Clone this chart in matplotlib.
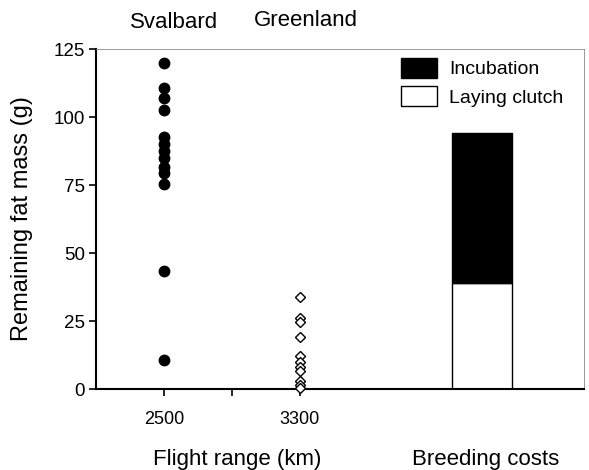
import matplotlib.pyplot as plt
from matplotlib.patches import Patch

plt.rcParams['font.family'] = ['Liberation Sans', 'DejaVu Sans']

# Remaining fat mass (g) after the flight
svalbard = [120, 110.5, 107, 102.5, 92.5, 90, 87.5, 85, 81.5, 79.5, 75.5, 43.5, 10.5]
greenland = [34, 26, 24.5, 19, 12, 10, 8, 6.5, 3, 1.5, 0.3]

# breeding costs (g)
laying_clutch = 39
incubation = 94.3 - 39

x_svalbard = 1
x_greenland = 3
x_bar = 5.68

fig = plt.figure(figsize=(5.89, 4.70), dpi=100)
ax = fig.add_axes([0.163, 0.1723, 0.8285, 0.7234])

ax.plot([x_svalbard] * len(svalbard), svalbard, 'o', color='black', ms=7.5, zorder=3)
ax.plot([x_greenland] * len(greenland), greenland, 'D', mfc='white', mec='black',
        ms=5, mew=1, zorder=3, clip_on=False)

ax.bar(x_bar, laying_clutch, width=0.87, color='white', edgecolor='black', lw=1)
ax.bar(x_bar, incubation, width=0.87, bottom=laying_clutch, color='black',
       edgecolor='black', lw=1)

ax.set_xlim(0, 7.18)
ax.set_ylim(0, 125)
ax.set_yticks([0, 25, 50, 75, 100, 125])
ax.set_xticks([1, 2, 3])
ax.set_xticklabels(['2500', '', '3300'])
ax.tick_params(axis='y', labelsize=13.5, length=5, width=1.2, pad=3)
ax.tick_params(axis='x', labelsize=13, length=5, width=1.2, pad=11)

for s in ['top', 'right']:
    ax.spines[s].set_color('#888888')
    ax.spines[s].set_linewidth(0.6)
for s in ['left', 'bottom']:
    ax.spines[s].set_linewidth(1.5)

ax.set_ylabel('Remaining fat mass (g)', fontsize=17, va='center')
ax.yaxis.set_label_coords((22 - 96) / 488, 0.5)

fig.text(237.5 / 589, 1 - 459 / 470, 'Flight range (km)', fontsize=16,
         ha='center', va='center')
fig.text(486 / 589, 1 - 459 / 470, 'Breeding costs', fontsize=16,
         ha='center', va='center')
fig.text(174 / 589, 1 - 23 / 470, 'Svalbard', fontsize=16, ha='center', va='center')
fig.text(306 / 589, 1 - 20 / 470, 'Greenland', fontsize=16, ha='center', va='center')

handles = [Patch(facecolor='black', edgecolor='black'),
           Patch(facecolor='white', edgecolor='black')]
ax.legend(handles, ['Incubation', 'Laying clutch'], loc='upper right',
          bbox_to_anchor=(0.993, 1.026), frameon=False, fontsize=14,
          handlelength=1.86, handleheight=1.2, handletextpad=0.6, labelspacing=0.42)

fig.savefig('out.png', dpi=100)
